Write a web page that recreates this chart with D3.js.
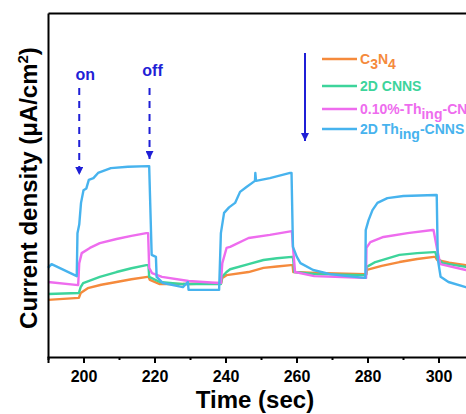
<!DOCTYPE html>
<html>
<head>
<meta charset="utf-8">
<script src="https://cdn.jsdelivr.net/npm/d3@7/dist/d3.min.js"></script>
<style>
body { margin: 0; background: #fff; }
text { font-family: Arial, "Liberation Sans", sans-serif; font-weight: bold; }
</style>
</head>
<body>
<div id="chart"></div>
<script>
var width = 466;
var height = 414;

// time (sec) / current density pairs
var c3n4 = [[190,1.66],[198.7,1.72],[199.2,1.86],[201.2,2.00],[205,2.10],[209.3,2.18],[213.5,2.26],[218.0,2.33],[218.3,2.33],
	[218.7,2.24],[221.5,2.12],[229.6,2.12],[238.5,2.15],[238.8,2.15],[239.1,2.30],[240.3,2.38],[246.5,2.47],
	[250.7,2.59],[254.5,2.63],[258.4,2.67],[258.9,2.67],[259.1,2.47],[265.5,2.44],[279.4,2.41],[279.7,2.41],
	[279.8,2.53],[284,2.65],[289.0,2.76],[294,2.85],[298.7,2.91],[299.1,2.91],[299.6,2.82],[303,2.74],[307.7,2.67],[310,2.67]];

var cnns = [[190,1.83],[198.7,1.86],[199.2,2.03],[199.9,2.15],[204.6,2.33],[209.3,2.47],[213.5,2.58],[217.7,2.67],[218.3,2.67],
	[218.5,2.33],[221.5,2.18],[228.0,2.12],[238.2,2.12],[238.7,2.12],[239.0,2.33],[240.3,2.47],[241.3,2.55],
	[246.5,2.70],[250.7,2.82],[254.5,2.87],[258.7,2.91],[259.0,2.91],[259.4,2.47],[265.5,2.41],[279.4,2.38],[279.6,2.38],
	[279.8,2.62],[282.2,2.76],[289.0,2.97],[294,3.02],[298.7,3.05],[299.1,3.05],[299.6,2.88],[301.2,2.73],[307.7,2.62],[310,2.62]];

var thing010 = [[190,2.18],[198.5,2.09],[198.8,2.73],[199.5,3.02],[201.8,3.17],[204.6,3.31],[209.3,3.43],[213.5,3.52],[217.7,3.60],[218.2,3.60],
	[218.5,2.59],[219.3,2.44],[222.1,2.33],[229.6,2.21],[238.0,2.15],[238.7,2.15],[239.1,2.73],[240.3,3.17],[241.3,3.20],
	[246.5,3.46],[252.5,3.55],[258.7,3.66],[259.0,3.20],[259.6,2.47],[265,2.35],[278.7,2.30],[279.6,2.30],
	[279.7,3.17],[280.8,3.34],[284.5,3.49],[291.3,3.60],[298.3,3.69],[298.6,3.69],[299.6,3.14],[300.5,2.70],[307.7,2.53],[310,2.53]];

var thingCnns = [[190,2.59],[191.0,2.70],[198.1,2.35],[198.3,3.60],[198.8,3.85],[199.3,4.48],[200.0,4.85],[200.8,4.90],[201.5,5.15],
	[202.8,5.20],[204.1,5.35],[207.7,5.49],[212.5,5.53],[218.2,5.55],[218.5,5.55],[219.2,2.97],[220.4,2.91],[220.6,2.33],
	[222.4,2.15],[228.0,2.03],[229.4,2.18],[229.6,1.95],[238.2,1.95],[238.7,3.60],[239.6,4.19],[241.0,4.35],[242.7,4.48],
	[244.1,4.80],[246,4.95],[248.3,5.12],[248.4,5.35],[248.6,5.12],[252.5,5.20],[258.2,5.35],[258.6,5.35],[259.0,3.20],
	[260.1,2.91],[261.1,2.73],[264.7,2.53],[269.5,2.41],[274.3,2.35],[279.4,2.30],[279.5,3.69],[280.3,3.98],[281.4,4.27],
	[282.8,4.48],[285.6,4.62],[290.1,4.68],[299.2,4.71],[299.5,4.71],[299.8,2.85],[300.6,2.33],[302.8,2.18],[307.7,2.03],[310,2.00]];

var seriesData = [c3n4, cnns, thing010, thingCnns];
var seriesColors = ["#F58A3C", "#3DD49B", "#EE6CEE", "#47B3EE"];

// legend labels, pieces marked "sub" are subscripts
var legendLabels = [
	[["C",""],["3","sub"],["N",""],["4","sub"]],
	[["2D CNNS",""]],
	[["0.10%-Th",""],["ing","sub"],["-CNNS",""]],
	[["2D Th",""],["ing","sub"],["-CNNS",""]]
];

var xTicks = [200, 220, 240, 260, 280, 300];
var xMinorTicks = [190, 210, 230, 250, 270, 290, 310];
var lightTimes = [198.8, 218.6];
var lightLabels = ["on", "off"];

var margin = {top: 13, left: 48, bottom: 57};
var plotRight = 474;
var plotBottom = height - margin.bottom;

var svg = d3.select("#chart")
	.append("svg")
	.attr("width", width)
	.attr("height", height);

var x_scale = d3.scaleLinear()
	.domain([190, 310])
	.range([margin.left, plotRight]);

var y_scale = d3.scaleLinear()
	.domain([0, 10])
	.range([plotBottom, margin.top]);

// arrow head, drawn pointing along the line
svg.append("defs").append("marker")
	.attr("id", "head")
	.attr("viewBox", "0 0 10 10")
	.attr("refX", 10).attr("refY", 5)
	.attr("markerWidth", 10).attr("markerHeight", 8)
	.attr("markerUnits", "userSpaceOnUse")
	.attr("orient", "auto")
	.append("path")
	.attr("d", "M0,0 L10,5 L0,10 Z")
	.attr("fill", "#1f1fd6");

// curves
var line = d3.line()
	.x(d => x_scale(d[0]))
	.y(d => y_scale(d[1]));

svg.selectAll(".curve")
	.data(seriesData)
	.enter()
	.append("path")
	.attr("class", "curve")
	.attr("d", line)
	.attr("fill", "none")
	.attr("stroke", (d, i) => seriesColors[i])
	.attr("stroke-width", 2.4)
	.attr("stroke-linejoin", "round");

// on / off arrows
var switches = svg.selectAll(".switch")
	.data(lightTimes)
	.enter()
	.append("g")
	.attr("class", "switch");

switches.append("line")
	.attr("x1", d => x_scale(d))
	.attr("x2", d => x_scale(d))
	.attr("y1", 88)
	.attr("y2", (d, i) => i == 0 ? 175 : 159)
	.attr("stroke", "#1f1fd6")
	.attr("stroke-width", 2)
	.attr("stroke-dasharray", "7,6")
	.attr("marker-end", "url(#head)");

switches.append("text")
	.attr("x", (d, i) => x_scale(d) + (i == 0 ? 6 : 3))
	.attr("y", (d, i) => i == 0 ? 80 : 76)
	.attr("text-anchor", "middle")
	.style("font-size", "16px")
	.style("fill", "#1f1fd6")
	.text((d, i) => lightLabels[i]);

// axes
var xAxis = d3.axisBottom(x_scale)
	.tickValues(xTicks)
	.tickSize(6)
	.tickPadding(8)
	.tickFormat(d3.format("d"));

var axis_bottom = svg.append("g")
	.attr("transform", "translate(0," + plotBottom + ")")
	.call(xAxis);

axis_bottom.selectAll("text")
	.style("font-size", "16px")
	.style("fill", "#000");

axis_bottom.select(".domain").attr("stroke-width", 2);
axis_bottom.selectAll(".tick line").attr("stroke-width", 2);

var minorAxis = svg.append("g")
	.attr("transform", "translate(0," + plotBottom + ")")
	.call(d3.axisBottom(x_scale).tickValues(xMinorTicks).tickSize(3).tickFormat(""));
minorAxis.select(".domain").remove();
minorAxis.selectAll(".tick line").attr("stroke-width", 2);

var axis_left = svg.append("g")
	.attr("transform", "translate(" + margin.left + ",0)")
	.call(d3.axisLeft(y_scale).tickValues([]).tickSizeOuter(0));
axis_left.select(".domain").attr("stroke-width", 2);

var axis_top = svg.append("g")
	.attr("transform", "translate(0," + margin.top + ")")
	.call(d3.axisTop(x_scale).tickValues([]).tickSizeOuter(0));
axis_top.select(".domain").attr("stroke-width", 2);

// titles
svg.append("text")
	.attr("x", 255)
	.attr("y", 408)
	.attr("text-anchor", "middle")
	.style("font-size", "24px")
	.text("Time (sec)");

var yTitle = svg.append("text")
	.attr("transform", "translate(37,188) rotate(-90)")
	.attr("text-anchor", "middle")
	.style("font-size", "24px");
yTitle.append("tspan").text("Current density (μA/cm");
yTitle.append("tspan").attr("dy", -9).style("font-size", "15px").text("2");
yTitle.append("tspan").attr("dy", 9).text(")");

// legend
svg.append("line")
	.attr("x1", 305).attr("x2", 305)
	.attr("y1", 53).attr("y2", 141)
	.attr("stroke", "#1f1fd6")
	.attr("stroke-width", 2)
	.attr("marker-end", "url(#head)");

var legendY = [59, 86, 109, 129];

var legend = svg.selectAll(".legend")
	.data(legendLabels)
	.enter()
	.append("g")
	.attr("class", "legend")
	.attr("transform", (d, i) => "translate(322," + legendY[i] + ")");

legend.append("line")
	.attr("x1", 0).attr("x2", 35)
	.attr("stroke", (d, i) => seriesColors[i])
	.attr("stroke-width", 2.4);

legend.each(function(parts, i) {
	var t = d3.select(this).append("text")
		.attr("x", 38)
		.attr("y", 5)
		.style("font-size", "14px")
		.style("fill", seriesColors[i]);
	var shift = 0;
	parts.forEach(function(p) {
		var target = p[1] == "sub" ? 5 : 0;
		t.append("tspan")
			.attr("dy", target - shift)
			.text(p[0]);
		shift = target;
	});
});
</script>
</body>
</html>
